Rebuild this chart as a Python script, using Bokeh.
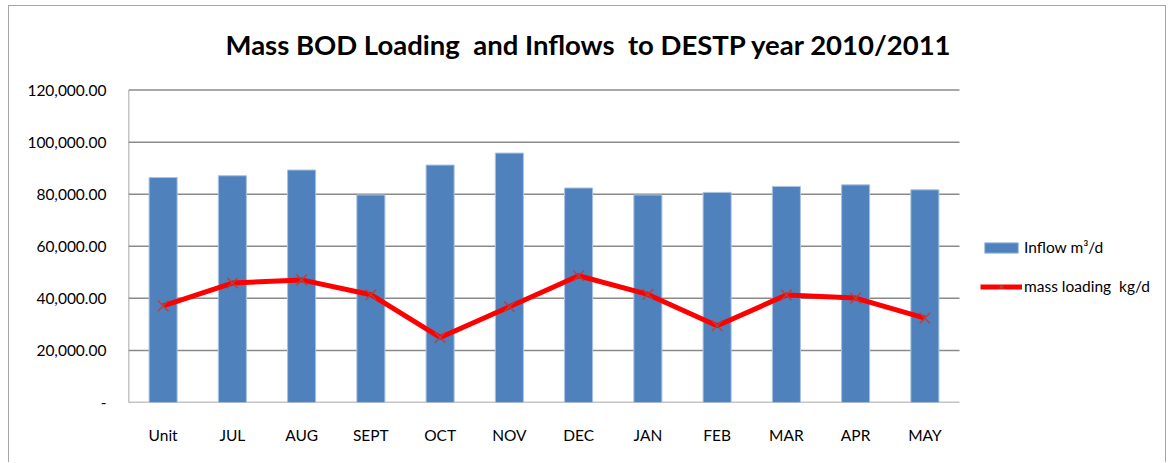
from bokeh.plotting import figure
from bokeh.models import (Range1d, FixedTicker, Legend, LegendItem, Label,
                          ColumnDataSource)
from bokeh.embed import file_html
from bokeh.resources import INLINE

# Monthly data for the treatment plant, 2010/2011
categories = ["Unit", "JUL", "AUG", "SEPT", "OCT", "NOV", "DEC",
              "JAN", "FEB", "MAR", "APR", "MAY"]
inflow = [86400, 87100, 89300, 79700, 91200, 95800,
          82400, 79700, 80700, 83000, 83600, 81700]
mass_loading = [37100, 45900, 47100, 41400, 25000, 36800,
                48700, 41500, 29500, 41300, 40100, 32400]

y_ticks = [0, 20000, 40000, 60000, 80000, 100000, 120000]
y_tick_labels = ["-", "20,000.00", "40,000.00", "60,000.00",
                 "80,000.00", "100,000.00", "120,000.00"]

title_text = "Mass BOD Loading \u00a0and Inflows \u00a0to DESTP year 2010/2011"
legend_labels = ["Inflow m\u00b3/d", "mass loading \u00a0kg/d"]

FONT = "Lato"
GRID = "#8a8a8a"

# layout: the frame covers everything right of the value labels and above
# the category labels; the value axis only spans 0..120,000 of it, the
# category slots its left part, and the title and legend sit in the rest.
FIG_W, FIG_H = 1158, 457
LEFT, BOTTOM = 119, 61
SLOT_PX = 69.25
AXIS_PX = 312.4          # pixel height of 0..y_max
y_max = y_ticks[-1]
n = len(categories)
frame_w = FIG_W - LEFT
frame_h = FIG_H - BOTTOM
x_end = frame_w / SLOT_PX
y_end = y_max * frame_h / AXIS_PX


def y_at(px_from_top):
    return (frame_h - px_from_top) * y_max / AXIS_PX


xpos = [i + 0.5 for i in range(n)]
src = ColumnDataSource(data=dict(x=xpos, inflow=inflow, load=mass_loading))

p = figure(x_range=Range1d(0, x_end), y_range=Range1d(0, y_end),
           width=FIG_W, height=FIG_H,
           output_backend="svg", toolbar_location=None,
           min_border_left=LEFT, min_border_right=0,
           min_border_top=0, min_border_bottom=BOTTOM)
p.styles = {"margin-left": "8px", "margin-top": "5px",
            "border-left": "1px solid #a6a6a6",
            "border-top": "1px solid #a6a6a6",
            "border-right": "1px solid #a6a6a6"}
p.outline_line_color = None
p.background_fill_color = "white"
p.border_fill_color = "white"

# horizontal gridlines across the category slots, plus the value axis line
p.segment(x0=[0] * len(y_ticks), x1=[n] * len(y_ticks),
          y0=y_ticks, y1=y_ticks, line_color=GRID, line_width=1.5)
p.segment(x0=[0], x1=[0], y0=[0], y1=[y_max],
          line_color=GRID, line_width=1.5)

bars = p.vbar(x="x", top="inflow", width=0.405, source=src,
              fill_color="#4F81BD", line_color="#A9C2E0", line_width=1)
line = p.line(x="x", y="load", source=src, line_color="#FF0000",
              line_width=5)
marks = p.scatter(x="x", y="load", source=src, marker="x", size=15,
                  line_color="#B8403D", line_width=1.4)

# title
p.add_layout(Label(x=97 / SLOT_PX, y=y_at(38.3), text=title_text,
                   text_font=FONT, text_font_style="bold",
                   text_font_size="27.5px", text_color="#000000",
                   text_align="left", text_baseline="alphabetic"))

# axes
p.grid.grid_line_color = None
p.xaxis.ticker = FixedTicker(ticks=xpos)
p.xaxis.major_label_overrides = {x: c for x, c in zip(xpos, categories)}
p.yaxis.ticker = FixedTicker(ticks=y_ticks)
p.yaxis.major_label_overrides = {t: s for t, s in zip(y_ticks, y_tick_labels)}
for ax in (p.xaxis[0], p.yaxis[0]):
    ax.axis_line_color = None
    ax.major_tick_line_color = None
    ax.minor_tick_line_color = None
    ax.major_label_text_font = FONT
    ax.major_label_text_font_size = "15.5px"
    ax.major_label_text_color = "#000000"
p.yaxis.major_label_standoff = 16
p.xaxis.major_label_standoff = 17

legend = Legend(items=[LegendItem(label=legend_labels[0], renderers=[bars]),
                       LegendItem(label=legend_labels[1],
                                  renderers=[line, marks])],
                location=(852, 107), orientation="vertical",
                glyph_width=42, glyph_height=13, label_height=13,
                spacing=21, padding=0, margin=0, label_standoff=2,
                border_line_color=None, background_fill_alpha=0,
                label_text_font=FONT, label_text_font_size="15.5px",
                label_text_color="#000000")
p.add_layout(legend, "center")

open("out.html", "w").write(file_html(p, INLINE))
